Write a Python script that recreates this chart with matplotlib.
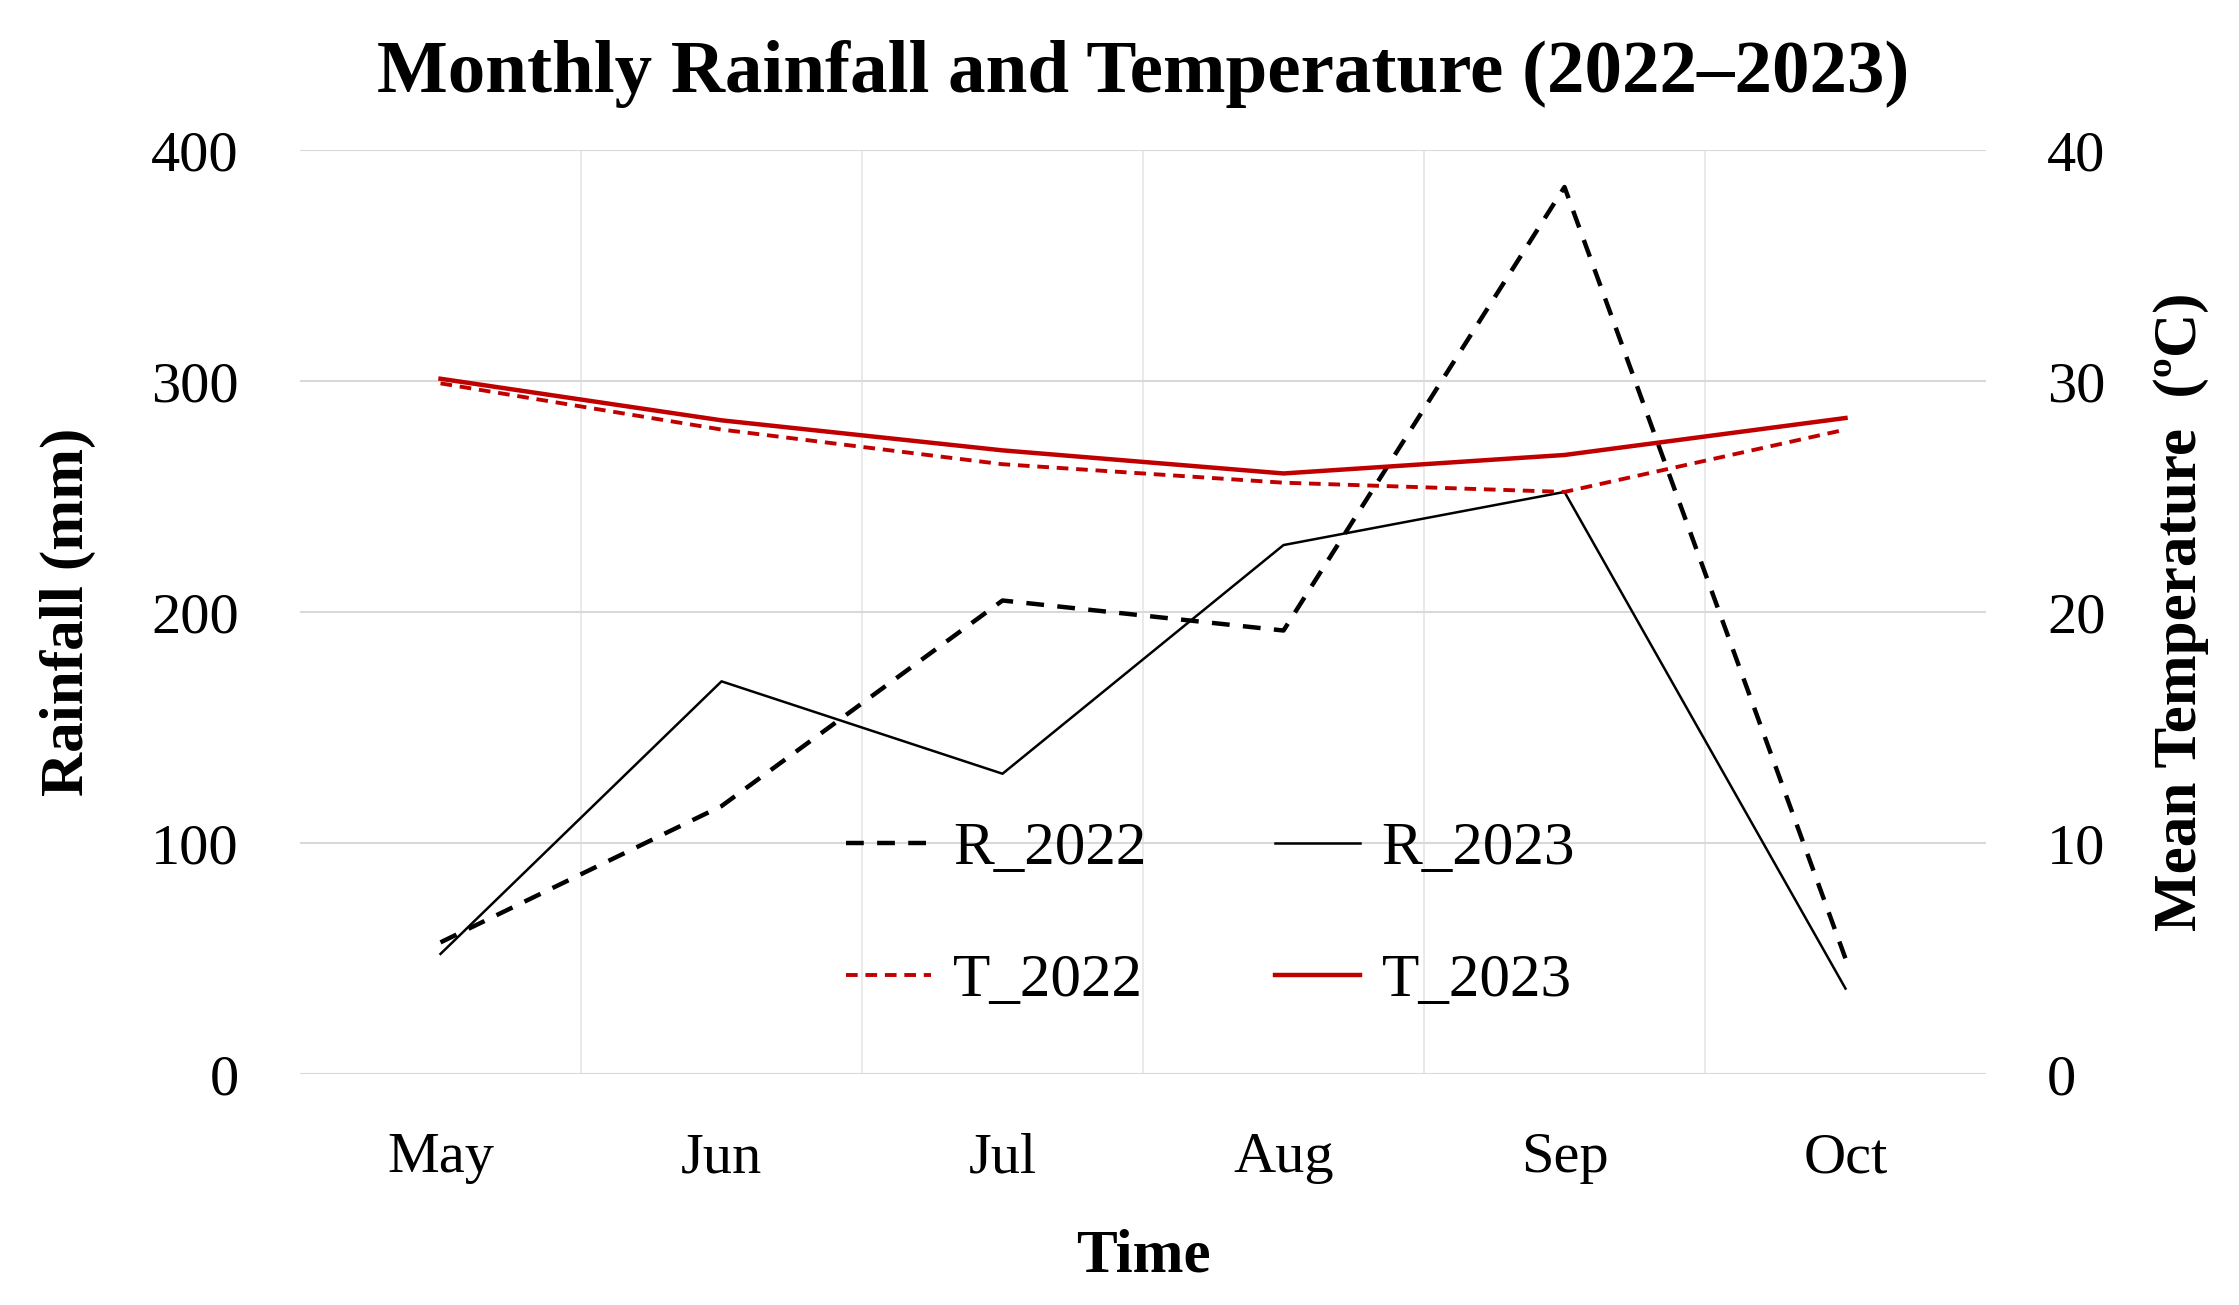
import matplotlib
matplotlib.use("Agg")
import matplotlib.pyplot as plt

# data
months = ["May", "Jun", "Jul", "Aug", "Sep", "Oct"]
r_2022 = [57, 116, 205, 192, 384, 50]
r_2023 = [52, 170, 130, 229, 252, 37]
t_2022 = [29.9, 27.9, 26.4, 25.6, 25.2, 27.9]
t_2023 = [30.1, 28.3, 27.0, 26.0, 26.8, 28.4]

plt.rcParams["font.family"] = ["Liberation Serif", "DejaVu Serif"]

fig = plt.figure(figsize=(22.39, 13.05), dpi=100)
ax = fig.add_axes([0.134, 0.177, 0.753, 0.708])
ax2 = ax.twinx()

x = list(range(len(months)))

l1, = ax.plot(x, r_2022, color="black", lw=3.2, ls=(0, (4, 3)), label="R_2022")
l2, = ax.plot(x, r_2023, color="black", lw=1.8, label="R_2023")
l3, = ax2.plot(x, t_2022, color="#c00000", lw=2.8, ls=(0, (3, 2)), label="T_2022")
l4, = ax2.plot(x, t_2023, color="#c00000", lw=3.2, label="T_2023")

ax.set_xlim(-0.5, 5.5)
ax.set_ylim(0, 400)
ax2.set_ylim(0, 40)
ax.set_yticks([0, 100, 200, 300, 400])
ax2.set_yticks([0, 10, 20, 30, 40])
ax.set_xticks(x)
ax.set_xticklabels(months)

# gridlines: horizontal at values, vertical between categories
ax.set_xticks([i + 0.5 for i in range(5)], minor=True)
ax.grid(axis="y", which="major", color="#d9d9d9", lw=1.5)
ax.grid(axis="x", which="minor", color="#e6e6e6", lw=1.2)
ax.set_axisbelow(True)

for a in (ax, ax2):
    for s in a.spines.values():
        s.set_visible(False)
    a.tick_params(length=0, which="both", labelsize=42)
ax.tick_params(axis="x", pad=42)
ax.tick_params(axis="y", pad=44)
ax2.tick_params(axis="y", pad=44)

ax.set_ylabel("Rainfall (mm)", fontsize=44, fontweight="bold", labelpad=40)
ax2.set_ylabel("Mean Temperature  (ºC)", fontsize=44, fontweight="bold", labelpad=34)
ax.set_xlabel("Time", fontsize=44, fontweight="bold", labelpad=32)
ax.set_title("Monthly Rainfall and Temperature (2022–2023)", fontsize=54,
             fontweight="bold", pad=42)

leg = ax.legend(handles=[l1, l3, l2, l4], ncol=2, frameon=False, fontsize=44,
                loc="center", bbox_to_anchor=(0.54, 0.172), handlelength=1.4,
                columnspacing=2.1, labelspacing=1.25, handletextpad=0.35)

fig.savefig("out.png", dpi=100)
